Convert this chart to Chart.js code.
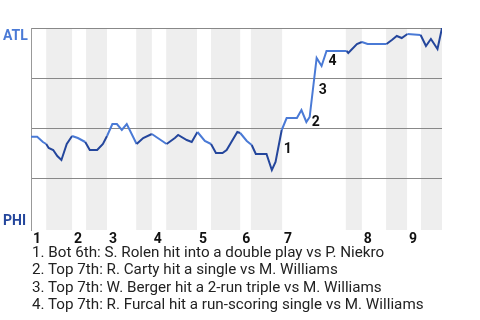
<!DOCTYPE html>
<html>
<head>
<meta charset="utf-8">
<script src="https://cdn.jsdelivr.net/npm/chart.js@4"></script>
<style>
  html, body { margin: 0; padding: 0; background: #fff; }
  #wrap { position: relative; width: 480px; height: 320px; }
  #notes { position: absolute; left: 32px; top: 244px; font: 15.2px Roboto, sans-serif; line-height: 17.3px; color: #222; white-space: nowrap; }
</style>
</head>
<body>
<div id="wrap">
  <canvas id="chart" width="480" height="320"></canvas>
  <div id="notes"></div>
</div>
<script>
// game progress (0-100) at each play, and ATL win probability after it
const progress = [0, 1.5, 2.9, 3.7, 4.3, 5.4, 6.4, 7.4, 8.7, 10.0,
  11.4, 13.2, 14.3, 16.1, 17.5, 18.5, 19.8, 20.9, 22.1, 23.3,
  25.7, 27.3, 29.4, 33.0, 35.0, 35.8, 37.9, 39.1, 40.5, 42.3,
  43.8, 45.0, 46.6, 47.6, 50.2, 50.9, 52.5, 53.7, 54.7, 57.3,
  58.6, 59.5, 61.0, 62.2, 64.7, 65.8, 67.0, 67.8, 69.5, 70.7,
  71.9, 76.8, 77.2, 79.3, 80.5, 81.9, 86.5, 87.8, 89.0, 90.2,
  91.6, 94.8, 96.1, 97.3, 98.9, 100];
const winProb = [0.456, 0.456, 0.43, 0.42, 0.40, 0.39, 0.36, 0.34, 0.42, 0.46,
  0.45, 0.43, 0.39, 0.39, 0.42, 0.46, 0.52, 0.52, 0.49, 0.52,
  0.42, 0.45, 0.47, 0.42, 0.45, 0.465, 0.44, 0.43, 0.48, 0.435,
  0.42, 0.375, 0.375, 0.39, 0.48, 0.475, 0.435, 0.415, 0.37, 0.37,
  0.29, 0.33, 0.49, 0.55, 0.55, 0.59, 0.53, 0.555, 0.85, 0.81,
  0.885, 0.885, 0.875, 0.92, 0.93, 0.92, 0.92, 0.94, 0.96, 0.95,
  0.97, 0.965, 0.91, 0.945, 0.895, 1.0];

const innings = ["1", "2", "3", "4", "5", "6", "7", "8", "9"];
const inningStart = [0, 10.0, 18.5, 29.4, 40.4, 50.9, 61.1, 80.5, 91.5];
const bottomStart = [3.7, 13.4, 25.6, 32.9, 43.8, 53.5, 76.6, 86.4, 94.9];
const gameEnd = 100;

const teams = ["ATL", "PHI"];
const eventPlay = [42, 47, 48, 50];
const eventNotes = [
  "1. Bot 6th: S. Rolen hit into a double play vs P. Niekro",
  "2. Top 7th: R. Carty hit a single vs M. Williams",
  "3. Top 7th: W. Berger hit a 2-run triple vs M. Williams",
  "4. Top 7th: R. Furcal hit a run-scoring single vs M. Williams"
];

const LIGHT = "#4a7ad6";
const DARK = "#24469c";

function inBottom(p) {
  for (let i = 0; i < innings.length; i++) {
    let end = i + 1 < innings.length ? inningStart[i + 1] : gameEnd;
    if (p >= bottomStart[i] && p < end) return true;
  }
  return false;
}

// grey bands behind the bottom halves
const shading = {
  id: "shading",
  beforeDraw(chart) {
    const { ctx, chartArea, scales } = chart;
    ctx.save();
    ctx.fillStyle = "#eeeeee";
    for (let i = 0; i < innings.length; i++) {
      let end = i + 1 < innings.length ? inningStart[i + 1] : gameEnd;
      let x0 = scales.x.getPixelForValue(bottomStart[i]);
      let x1 = scales.x.getPixelForValue(end);
      ctx.fillRect(x0, chartArea.top, x1 - x0, chartArea.bottom - chartArea.top);
    }
    ctx.restore();
  }
};

// team names, inning numbers and event markers
const labels = {
  id: "labels",
  afterDraw(chart) {
    const { ctx, scales } = chart;
    const x = scales.x, y = scales.y;
    ctx.save();
    ctx.font = "bold 14px Roboto, sans-serif";
    ctx.textAlign = "left";
    ctx.textBaseline = "alphabetic";
    ctx.fillStyle = LIGHT;
    ctx.fillText(teams[0], 3, y.getPixelForValue(1) + 12);
    ctx.fillStyle = DARK;
    ctx.fillText(teams[1], 3, y.getPixelForValue(0) - 3);

    ctx.fillStyle = "#111";
    ctx.textBaseline = "top";
    for (let i = 0; i < innings.length; i++) {
      ctx.fillText(innings[i], x.getPixelForValue(inningStart[i]) + 2, 232);
    }

    ctx.textBaseline = "middle";
    eventPlay.forEach((k, i) => {
      let px = x.getPixelForValue(progress[k]) + 2;
      let py = (y.getPixelForValue(winProb[k]) + y.getPixelForValue(winProb[k - 1])) / 2 + 3;
      ctx.fillText(String(i + 1), px, py);
    });
    ctx.restore();
  }
};

new Chart(document.getElementById("chart").getContext("2d"), {
  type: "line",
  data: {
    datasets: [{
      data: progress.map((p, i) => ({ x: p, y: winProb[i] })),
      borderColor: LIGHT,
      borderWidth: 2,
      pointRadius: 0,
      tension: 0,
      segment: {
        borderColor: c => inBottom((c.p0.parsed.x + c.p1.parsed.x) / 2) ? DARK : LIGHT
      }
    }]
  },
  options: {
    responsive: false,
    animation: false,
    layout: { padding: { left: 31, right: 38, top: 28, bottom: 90 } },
    plugins: { legend: { display: false }, tooltip: { enabled: false } },
    scales: {
      x: { type: "linear", min: 0, max: gameEnd, display: false },
      y: {
        min: -0.01,
        max: 1,
        afterBuildTicks: s => { s.ticks = [0.25, 0.5, 0.75, 1].map(v => ({ value: v })); },
        grid: { color: "#888", drawTicks: false },
        border: { color: "#999" },
        ticks: { display: false }
      }
    }
  },
  plugins: [shading, labels]
});

document.getElementById("notes").innerHTML = eventNotes.map(t => "<div>" + t + "</div>").join("");
</script>
</body>
</html>
